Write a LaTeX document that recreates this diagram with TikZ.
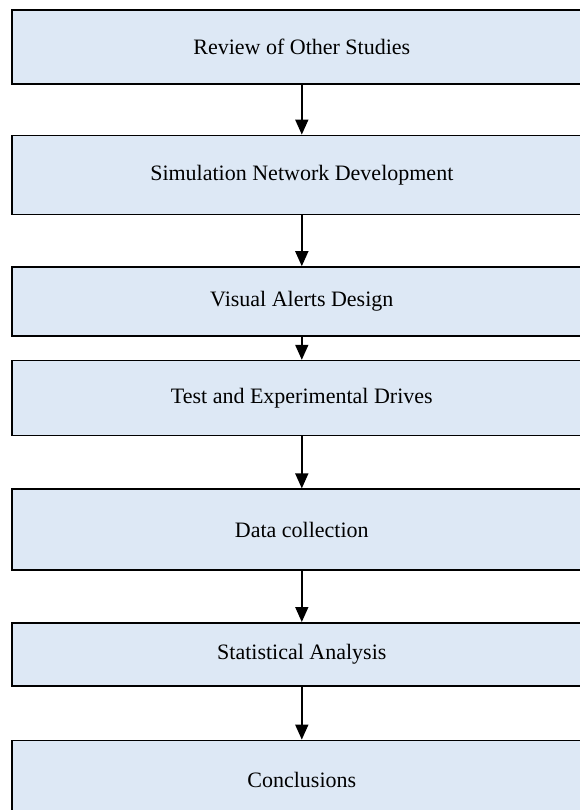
\documentclass[tikz,border=0pt]{standalone}
\usepackage{fontspec}
\setmainfont{Liberation Serif}
\usepackage{xcolor}
\usetikzlibrary{positioning,arrows.meta}
\definecolor{stepfill}{RGB}{221,232,245}
\tikzstyle{stepbox} = [rectangle, draw, line width=1.6pt, fill=stepfill, text centered, minimum width=580pt, font=\fontsize{22}{26}\selectfont, inner sep=0pt]
\tikzstyle{line} = [draw, -{Triangle[width=13pt,length=15pt]}, line width=1.6pt]

\begin{document}
\begin{tikzpicture}[x=1pt, y=1pt]
\useasboundingbox (0,0) rectangle (579,-810);

\node [stepbox, minimum height=74pt, anchor=north west] (review) at (11,-9) {Review of Other Studies};
\node [stepbox, minimum height=79pt, below=50pt of review] (sim) {Simulation Network Development};
\node [stepbox, minimum height=69pt, below=51pt of sim] (alerts) {Visual Alerts Design};
\node [stepbox, minimum height=75pt, below=23pt of alerts] (drives) {Test and Experimental Drives};
\node [stepbox, minimum height=81pt, below=52pt of drives] (data) {Data collection};
\node [stepbox, minimum height=63pt, below=51pt of data] (stats) {Statistical Analysis};
\node [stepbox, minimum height=80pt, below=53pt of stats] (concl) {Conclusions};

\path [line] (review) -- (sim);
\path [line] (sim) -- (alerts);
\path [line] (alerts) -- (drives);
\path [line] (drives) -- (data);
\path [line] (data) -- (stats);
\path [line] (stats) -- (concl);

\end{tikzpicture}
\end{document}
